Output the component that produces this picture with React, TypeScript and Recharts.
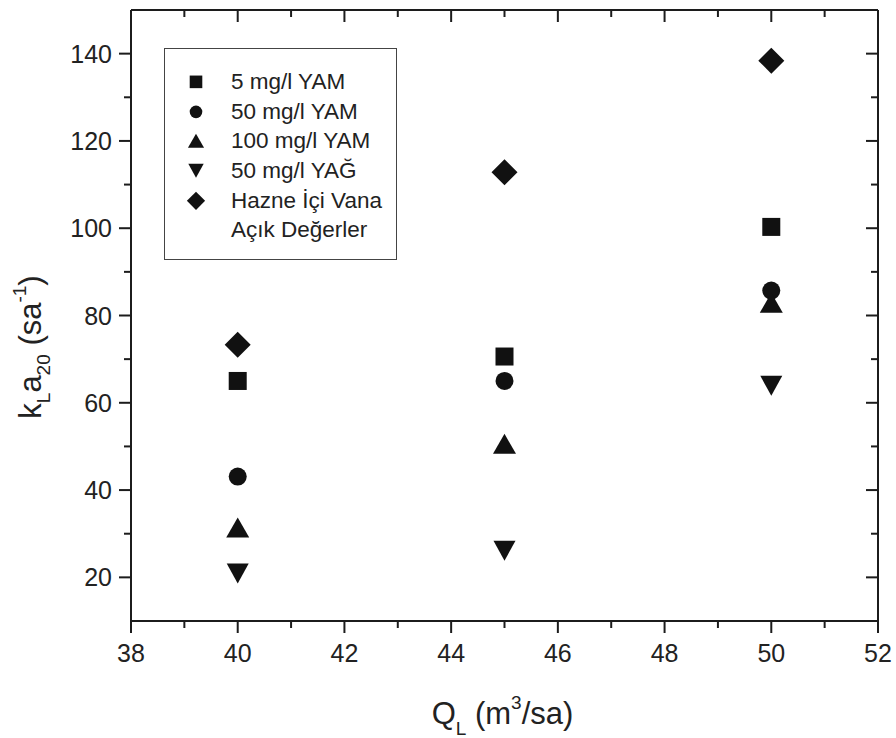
import React from 'react';
import { ScatterChart, Scatter, XAxis, YAxis, Legend } from 'recharts';

// Flow rate Q_L (m3/sa) and measured kLa20 (sa^-1) per condition
const FLOW_RATES = [40, 45, 50];
const YAM_5 = [65.0, 70.6, 100.3];
const YAM_50 = [43.1, 65.0, 85.7];
const YAM_100 = [31.4, 50.6, 82.9];
const YAG_50 = [20.9, 26.1, 63.9];
const VALVE_OPEN = [73.3, 112.8, 138.4];

const X_TICKS = [38, 39, 40, 41, 42, 43, 44, 45, 46, 47, 48, 49, 50, 51, 52];
const Y_TICKS = [20, 30, 40, 50, 60, 70, 80, 90, 100, 110, 120, 130, 140];

type MarkerKind = 'square' | 'circle' | 'triangle' | 'triangleDown' | 'diamond';

const SERIES: { name: string; values: number[]; marker: MarkerKind }[] = [
  { name: '5 mg/l YAM', values: YAM_5, marker: 'square' },
  { name: '50 mg/l YAM', values: YAM_50, marker: 'circle' },
  { name: '100 mg/l YAM', values: YAM_100, marker: 'triangle' },
  { name: '50 mg/l YAĞ', values: YAG_50, marker: 'triangleDown' },
  { name: 'Hazne İçi Vana\nAçık Değerler', values: VALVE_OPEN, marker: 'diamond' },
];

const FONT = '"Liberation Sans", Arial, Helvetica, sans-serif';
const AXIS = '#1c1c1c';
const INK = '#111';

function Marker({ kind, cx, cy, scale = 1 }: { kind: MarkerKind; cx: number; cy: number; scale?: number }) {
  const s = scale;
  switch (kind) {
    case 'square':
      return <rect x={cx - 9 * s} y={cy - 9 * s} width={18 * s} height={18 * s} fill={INK} />;
    case 'circle':
      return <circle cx={cx} cy={cy} r={9 * s} fill={INK} />;
    case 'triangle':
      return (
        <polygon
          points={`${cx - 11.5 * s},${cy + 10 * s} ${cx + 11.5 * s},${cy + 10 * s} ${cx},${cy - 10 * s}`}
          fill={INK}
        />
      );
    case 'triangleDown':
      return (
        <polygon
          points={`${cx - 11 * s},${cy - 10 * s} ${cx + 11 * s},${cy - 10 * s} ${cx},${cy + 10 * s}`}
          fill={INK}
        />
      );
    case 'diamond':
    default:
      return (
        <polygon
          points={`${cx},${cy - 13 * s} ${cx + 13 * s},${cy} ${cx},${cy + 13 * s} ${cx - 13 * s},${cy}`}
          fill={INK}
        />
      );
  }
}

const BottomTick = (props: any) => {
  const { x, y, payload } = props;
  const major = payload.value % 2 === 0;
  return (
    <g>
      <line x1={x} x2={x} y1={y} y2={y + (major ? 12 : 7)} stroke={AXIS} strokeWidth={2} />
      {major && (
        <text x={x} y={y + 40.5} textAnchor="middle" fontSize={25} fontFamily={FONT} fill="#222">
          {payload.value}
        </text>
      )}
    </g>
  );
};

const TopTick = (props: any) => {
  const { x, y, payload } = props;
  const major = payload.value % 2 === 0;
  return <line x1={x} x2={x} y1={y} y2={y + (major ? 12 : 7)} stroke={AXIS} strokeWidth={2} />;
};

const LeftTick = (props: any) => {
  const { x, y, payload } = props;
  const major = payload.value % 20 === 0;
  return (
    <g>
      <line x1={x - (major ? 12 : 7)} x2={x} y1={y} y2={y} stroke={AXIS} strokeWidth={2} />
      {major && (
        <text x={x - 19} y={y} dy="0.36em" textAnchor="end" fontSize={25} fontFamily={FONT} fill="#222">
          {payload.value}
        </text>
      )}
    </g>
  );
};

const RightTick = (props: any) => {
  const { x, y, payload } = props;
  const major = payload.value % 20 === 0;
  return <line x1={x - (major ? 12 : 7)} x2={x} y1={y} y2={y} stroke={AXIS} strokeWidth={2} />;
};

const XTitle = (props: any) => {
  const vb = props.viewBox || { x: 131, y: 621, width: 747, height: 1 };
  const cx = vb.x + vb.width / 2 - 2;
  return (
    <text x={cx} y={vb.y + 103} textAnchor="middle" fontSize={31} fontFamily={FONT} fill="#222">
      Q
      <tspan fontSize={19} dy={11}>L</tspan>
      <tspan dy={-11}>{' (m'}</tspan>
      <tspan fontSize={19} dy={-15}>3</tspan>
      <tspan dy={15}>/sa)</tspan>
    </text>
  );
};

const YTitle = () => {
  const bx = 41;
  const cy = 347;
  return (
    <text
      x={bx}
      y={cy}
      textAnchor="middle"
      fontSize={31}
      fontFamily={FONT}
      fill="#222"
      transform={`rotate(-90 ${bx} ${cy})`}
    >
      k
      <tspan fontSize={19} dy={9}>L</tspan>
      <tspan dy={-9}>a</tspan>
      <tspan fontSize={19} dy={9}>20</tspan>
      <tspan dy={-9}>{' (sa'}</tspan>
      <tspan fontSize={19} dy={-15}>-1</tspan>
      <tspan dy={15}>)</tspan>
    </text>
  );
};

const LegendBox = () => (
  <div
    style={{
      boxSizing: 'border-box',
      width: 233,
      height: 212,
      border: '1.5px solid #444',
      background: '#fff',
      paddingTop: 18,
      fontFamily: FONT,
      fontSize: 22.5,
      color: '#222',
    }}
  >
    {SERIES.map((s) =>
      s.name.split('\n').map((line, i) => (
        <div key={s.name + i} style={{ display: 'flex', alignItems: 'center', height: 29.7 }}>
          <svg width={66} height={29.7} style={{ flex: 'none' }}>
            {i === 0 && <Marker kind={s.marker} cx={31} cy={14.85} scale={0.7} />}
          </svg>
          <span style={{ whiteSpace: 'nowrap', lineHeight: '29.7px' }}>{line}</span>
        </div>
      ))
    )}
  </div>
);

export default function App() {
  return (
    <div style={{ position: 'absolute', left: 0, top: 0, width: 896, height: 738, background: '#fff' }}>
      <ScatterChart
        width={896}
        height={738}
        margin={{ top: 9, right: 17, bottom: 116, left: 0 }}
        style={{ fontFamily: FONT }}
      >
        <XAxis
          xAxisId="bottom"
          type="number"
          dataKey="q"
          orientation="bottom"
          domain={[38, 52]}
          ticks={X_TICKS}
          interval={0}
          allowDataOverflow
          height={1}
          tickSize={0}
          tickMargin={0}
          tickLine={false}
          axisLine={{ stroke: AXIS, strokeWidth: 2 }}
          tick={BottomTick}
          label={<XTitle />}
        />
        <XAxis
          xAxisId="top"
          type="number"
          dataKey="q"
          orientation="top"
          domain={[38, 52]}
          ticks={X_TICKS}
          interval={0}
          allowDataOverflow
          height={1}
          tickSize={0}
          tickMargin={0}
          tickLine={false}
          axisLine={{ stroke: AXIS, strokeWidth: 2 }}
          tick={TopTick}
        />
        <YAxis
          yAxisId="left"
          type="number"
          dataKey="k"
          orientation="left"
          domain={[10, 150]}
          ticks={Y_TICKS}
          interval={0}
          allowDataOverflow
          width={131}
          tickSize={0}
          tickMargin={0}
          tickLine={false}
          axisLine={{ stroke: AXIS, strokeWidth: 2 }}
          tick={LeftTick}
          label={<YTitle />}
        />
        <YAxis
          yAxisId="right"
          type="number"
          dataKey="k"
          orientation="right"
          domain={[10, 150]}
          ticks={Y_TICKS}
          interval={0}
          allowDataOverflow
          width={1}
          tickSize={0}
          tickMargin={0}
          tickLine={false}
          axisLine={{ stroke: AXIS, strokeWidth: 2 }}
          tick={RightTick}
        />
        {SERIES.map((s) => (
          <Scatter
            key={s.name}
            name={s.name}
            xAxisId="bottom"
            yAxisId="left"
            data={FLOW_RATES.map((q, i) => ({ q, k: s.values[i] }))}
            isAnimationActive={false}
            shape={(p: any) => <Marker kind={s.marker} cx={p.cx} cy={p.cy} />}
          />
        ))}
        <Legend
          layout="vertical"
          align="center"
          verticalAlign="middle"
          content={<LegendBox />}
          wrapperStyle={{ left: 164, top: 48, width: 233, height: 212 }}
        />
      </ScatterChart>
    </div>
  );
}
